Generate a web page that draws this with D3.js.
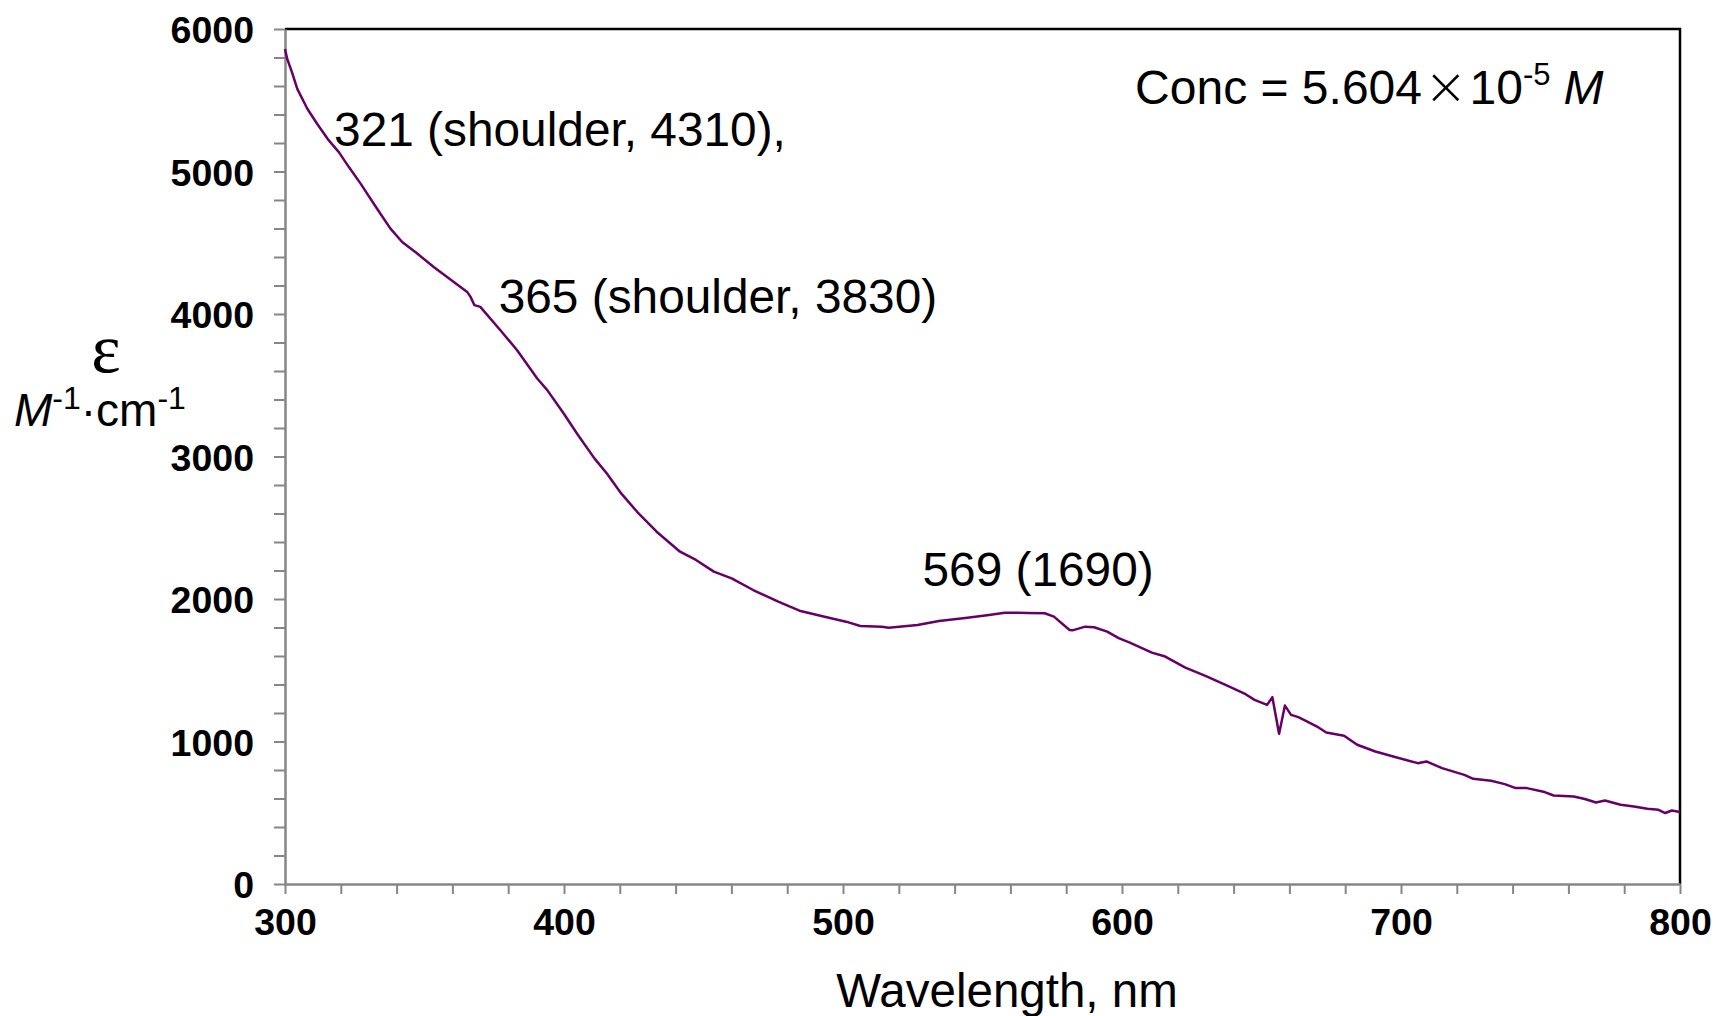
<!DOCTYPE html>
<html>
<head>
<meta charset="utf-8">
<script src="https://cdn.jsdelivr.net/npm/d3@7"></script>
<style>
  body { margin: 0; background: #fff; }
  svg { display: block; font-family: "Liberation Sans", Arial, sans-serif; }
</style>
</head>
<body>
<div id="chart"></div>
<script>
// wavelength (nm) and molar absorptivity
const wavelengths = [
	300, 300.8, 302.6, 304.4, 308, 311.5, 315.7, 319.3, 322.9, 327.1,
	333, 337.8, 342, 347.4, 353.3, 360.5, 365.3, 366.5, 367.9, 370,
	377.2, 383.2, 390.4, 394, 399.9, 404.7, 410.9, 415.3, 420.5, 426.2,
	433.2, 441.6, 447.3, 453.7, 460.1, 467.8, 476.8, 484.4, 493.4, 501.1,
	506.2, 513.9, 516.4, 526.7, 534.4, 544.6, 552.3, 558, 562.8, 566,
	572.3, 575.6, 581.2, 582.3, 586.8, 590, 594.7, 598.8, 602.8, 610.7,
	615.5, 622.7, 629.9, 637.9, 644.3, 647.5, 652, 653.9, 656.3, 658.4,
	660.6, 663.2, 665.9, 669.9, 673.2, 679.6, 684.3, 690.8, 697.2, 706,
	709.1, 714.7, 722.7, 725.9, 732.3, 737.2, 741.1, 745.1, 751.5, 754.7,
	761.9, 765.9, 769.9, 773.1, 778.7, 783.5, 788.3, 792.3, 794.7, 797.1,
	800
];
const epsilon = [
	5860, 5790, 5690, 5580, 5440, 5335, 5218, 5136, 5031, 4915,
	4739, 4599, 4505, 4424, 4330, 4225, 4155, 4120, 4062, 4050,
	3886, 3746, 3547, 3466, 3302, 3160, 2987, 2882, 2741, 2612,
	2472, 2332, 2274, 2192, 2145, 2063, 1981, 1918, 1876, 1841,
	1811, 1806, 1799, 1818, 1846, 1869, 1888, 1904, 1904, 1902,
	1900, 1876, 1783, 1780, 1806, 1802, 1771, 1725, 1694, 1624,
	1596, 1519, 1460, 1390, 1332, 1292, 1257, 1311, 1054, 1252,
	1187, 1171, 1145, 1105, 1063, 1040, 977, 930, 895, 848,
	860, 813, 766, 738, 724, 701, 673, 673, 645, 621,
	614, 596, 572, 586, 556, 544, 528, 521, 498, 516,
	505
];

const xTicks = [300, 400, 500, 600, 700, 800];
const yTicks = [0, 1000, 2000, 3000, 4000, 5000, 6000];

// peak labels, anchored in data units (left edge, baseline)
const peakLabels = ["321 (shoulder, 4310),", "365 (shoulder, 3830)", "569 (1690)"];
const peakLabelX = [317.6, 376.6, 528.5];
const peakLabelY = [5180, 4010, 2094];

const width = 1716, height = 1016;
const margin = {left: 285, top: 29, right: 36, bottom: 132};
const w = width - margin.left - margin.right;
const h = height - margin.top - margin.bottom;

const svg = d3.select("#chart")
	.append("svg")
	.attr("width", width)
	.attr("height", height);

const chart = svg.append("g")
	.attr("transform", "translate(" + margin.left + "," + margin.top + ")");

const x = d3.scaleLinear().domain([300, 800]).range([0, w]);
const y = d3.scaleLinear().domain([0, 6000]).range([h, 0]);

// frame: black top/right
chart.append("path")
	.attr("d", "M0,0H" + w + "V" + h)
	.style("fill", "none")
	.style("stroke", "#000")
	.style("stroke-width", "2.5px");

// y axis with minor ticks every 200
let yAxis = d3.axisLeft(y)
	.tickValues(d3.range(0, 6001, 200))
	.tickSize(11)
	.tickSizeOuter(0)
	.tickPadding(20)
	.tickFormat(d => yTicks.includes(d) ? d : "");
let gy = chart.append("g").attr("class", "y axis").call(yAxis);

// x axis with minor ticks every 20
let xAxis = d3.axisBottom(x)
	.tickValues(d3.range(300, 801, 20))
	.tickSize(10)
	.tickSizeOuter(0)
	.tickPadding(12)
	.tickFormat(d => xTicks.includes(d) ? d : "");
let gx = chart.append("g").attr("class", "x axis")
	.attr("transform", "translate(0," + h + ")")
	.call(xAxis);

[gx, gy].forEach(g => {
	g.select(".domain").style("stroke", "#868686").style("stroke-width", "2.5px");
	g.selectAll(".tick line").style("stroke", "#868686").style("stroke-width", "2px");
	g.selectAll(".tick text")
		.style("font-family", "'Liberation Sans', Arial, sans-serif")
		.style("font-weight", "bold")
		.style("font-size", "37.5px")
		.style("fill", "#000");
});
gy.selectAll(".tick text").attr("dy", "0.36em");
gx.selectAll(".tick text").attr("dy", "0.76em");

// spectrum
let line = d3.line()
	.x((d, i) => x(wavelengths[i]))
	.y(d => y(d));

chart.append("path")
	.datum(epsilon)
	.attr("d", line)
	.style("fill", "none")
	.style("stroke", "#660066")
	.style("stroke-width", "2.5px")
	.style("stroke-linejoin", "round");

// peak annotations
chart.selectAll("text.peak")
	.data(peakLabels)
	.enter().append("text")
	.attr("class", "peak")
	.attr("x", (d, i) => x(peakLabelX[i]))
	.attr("y", (d, i) => y(peakLabelY[i]))
	.style("font-size", "47.8px")
	.style("fill", "#000")
	.text(d => d);

// concentration note
let conc = chart.append("text")
	.attr("x", x(604.7))
	.attr("y", y(5475))
	.style("font-size", "48px")
	.style("fill", "#000");
conc.append("tspan").text("Conc = 5.604");
conc.append("tspan").text("\u00D7").style("font-family", "'DejaVu Sans'").style("font-weight", "200").style("font-size", "52px").attr("dx", 2);
conc.append("tspan").text("10").attr("dx", 2);
conc.append("tspan").text("-5").style("font-size", "31px").attr("dy", -19);
conc.append("tspan").text("M").style("font-style", "italic").attr("dy", 19).attr("dx", 13);

// y axis title
svg.append("text")
	.attr("x", 106)
	.attr("y", 372)
	.attr("text-anchor", "middle")
	.style("font-family", "'Liberation Serif', 'DejaVu Serif', serif")
	.style("font-size", "70px")
	.text("\u03B5");

let yUnit = svg.append("text")
	.attr("x", 14)
	.attr("y", 426)
	.style("font-size", "46px");
yUnit.append("tspan").text("M").style("font-style", "italic");
yUnit.append("tspan").text("-1").style("font-size", "32px").attr("dy", -17);
yUnit.append("tspan").text("\u00B7cm").attr("dy", 17);
yUnit.append("tspan").text("-1").style("font-size", "32px").attr("dy", -17);

// x axis title
svg.append("text")
	.attr("x", 1007)
	.attr("y", 1007)
	.attr("text-anchor", "middle")
	.style("font-size", "47.5px")
	.text("Wavelength, nm");
</script>
</body>
</html>
